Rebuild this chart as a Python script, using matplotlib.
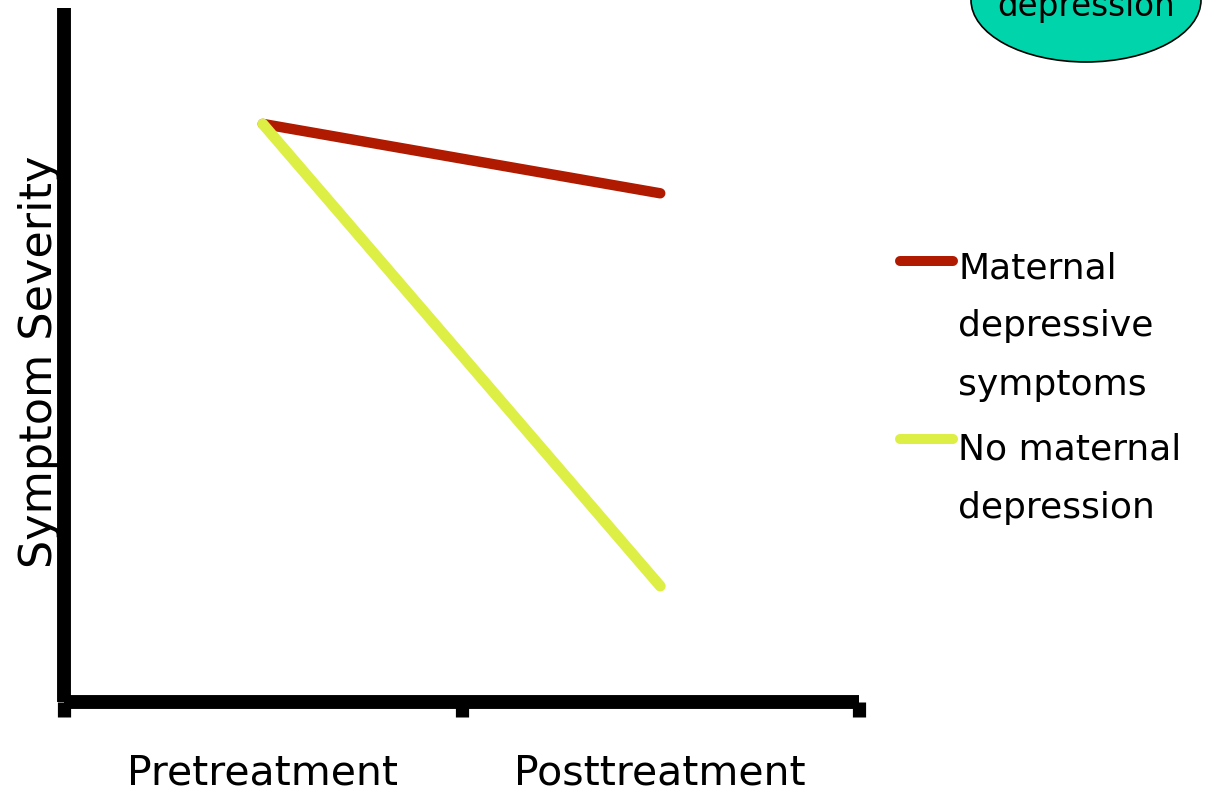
import matplotlib
matplotlib.use("Agg")
import matplotlib.pyplot as plt
from matplotlib.lines import Line2D
from matplotlib.patches import Ellipse

plt.rcParams.update({
    "font.family": ["DejaVu Sans"],
    "axes.spines.top": False,
    "axes.spines.right": False,
})

# data
phases = ["Pretreatment", "Posttreatment"]
phase_pos = [0.5, 1.5]
maternal_dep = [8.33, 7.33]
no_maternal_dep = [8.33, 1.67]
series_labels = ["Maternal\ndepressive\nsymptoms", "No maternal\ndepression"]

RED = "#B01A00"
YELLOW = "#DDEE44"
TEAL = "#00D4AA"

fig = plt.figure(figsize=(12.26, 8.0), dpi=100)
ax = fig.add_axes([64 / 1226, 1 - 702 / 800, (859 - 64) / 1226, (702 - 8) / 800])

ax.plot(phase_pos, maternal_dep, color=RED, lw=7.5, solid_capstyle="round", zorder=3)
ax.plot(phase_pos, no_maternal_dep, color=YELLOW, lw=7.8, solid_capstyle="round", zorder=4)

ax.set_xlim(0, 2)
ax.set_ylim(0, 10)
for s in ("left", "bottom"):
    ax.spines[s].set_linewidth(10)
    ax.spines[s].set_capstyle("butt")

ax.set_xticks([0, 1, 2])
ax.set_xticklabels([])
ax.tick_params(axis="x", which="major", length=11, width=9.5, direction="out")
ax.set_xticks(phase_pos, minor=True)
ax.set_xticklabels(phases, minor=True, fontsize=29.5)
ax.tick_params(axis="x", which="minor", length=0, pad=37)
ax.set_yticks([])
ax.set_ylabel("Symptom Severity", fontsize=32)
ax.yaxis.set_label_coords(-0.004, 0.49)

# legend, drawn by hand so the handle sits at the first text line
leg_colors = [RED, YELLOW]
leg_tops = [0.686, 0.459]
leg_handle_y = [0.674, 0.451]
for lab, col, top, hy in zip(series_labels, leg_colors, leg_tops, leg_handle_y):
    fig.add_artist(Line2D([900 / 1226, 953 / 1226], [hy, hy],
                          color=col, lw=7.2, solid_capstyle="round",
                          transform=fig.transFigure))
    fig.text(958 / 1226, top, lab, fontsize=26, va="top", ha="left",
             linespacing=1.9)

# teal bubble, cut by the top edge
fig.add_artist(Ellipse((1086 / 1226, 1.0), 230 / 1226, 124 / 800,
                       facecolor=TEAL, edgecolor="black", lw=1.2,
                       transform=fig.transFigure))
fig.text(1086 / 1226, 1 - 16 / 800, "depression", fontsize=23.5,
         ha="center", va="baseline")

fig.savefig("out.png", dpi=100)
